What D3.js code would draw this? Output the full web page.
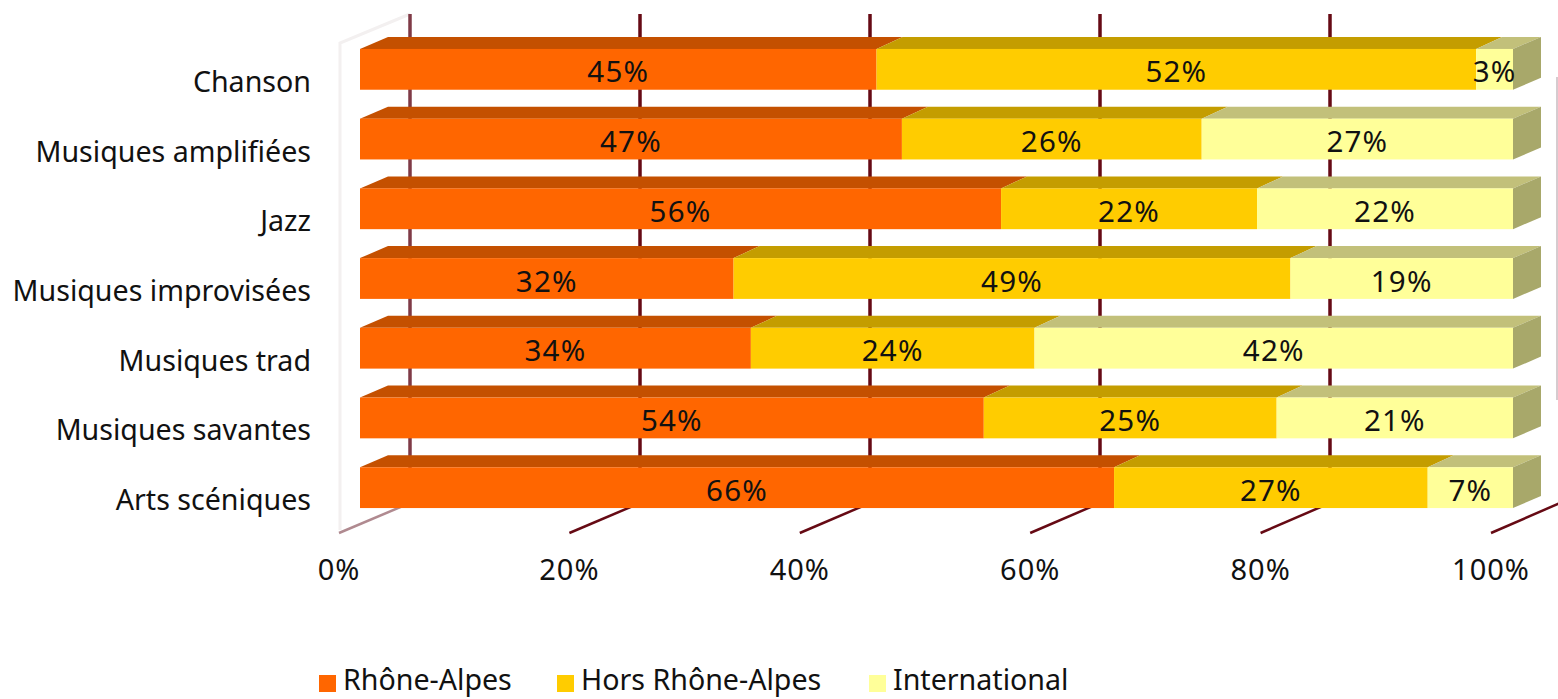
<!DOCTYPE html>
<html><head><meta charset="utf-8">
<script src="https://cdn.jsdelivr.net/npm/d3@7"></script>
<style>html,body{margin:0;padding:0;background:#fff;overflow:hidden}text{font-family:"Noto Sans",sans-serif;fill:#111}</style>
</head><body><svg id="c" width="1558" height="699"></svg>
<script>
const categories=["Chanson","Musiques amplifiées","Jazz","Musiques improvisées","Musiques trad","Musiques savantes","Arts scéniques"];
const seriesNames=["Rhône-Alpes","Hors Rhône-Alpes","International"];
const rhoneAlpes=[44.8,47,55.6,32.4,33.9,54.1,65.4];
const horsRhoneAlpes=[52,26,22.2,48.3,24.6,25.4,27.2];
const international=[3.2,27,22.2,19.3,41.5,20.5,7.4];
const pctLabels=[["45%","52%","3%"],["47%","26%","27%"],["56%","22%","22%"],["32%","49%","19%"],["34%","24%","42%"],["54%","25%","21%"],["66%","27%","7%"]];
const ticks=[0,20,40,60,80,100];
const frontColors=["#FF6600","#FFCC00","#FFFF99"];
const topColors=["#C45000","#C49D00","#C2C07A"];
const sideColor="#A8A86A";

const svg=d3.select("#c");
const x=d3.scaleLinear().domain([0,100]).range([360,1513]);
const y=d3.scaleBand().domain(categories).range([35,522]).paddingInner(0.415).paddingOuter(0.2);
const dx=28,dy=-12,innerDx=26;
const gridX=d3.scaleLinear().domain([0,100]).range([410,1560]);
const floorX=d3.scaleLinear().domain([0,100]).range([339,1491]);
const gridTop=14,floorBack=503,floorFront=533;

svg.append("path").attr("d",`M340,530V43L410,${gridTop}`).attr("fill","none").attr("stroke","#f3f0f0").attr("stroke-width",3);
svg.append("line").attr("x1",1557).attr("x2",1557).attr("y1",77).attr("y2",400).attr("stroke","#d6cbcf").attr("stroke-width",2);
svg.selectAll(".grid").data(ticks.slice(0,-1)).join("line").attr("class","grid")
 .attr("x1",gridX).attr("x2",gridX).attr("y1",gridTop).attr("y2",floorBack)
 .attr("stroke",d=>d===0?"#7f3a46":"#660a14").attr("stroke-width",3.5);
svg.selectAll(".floor").data(ticks).join("line").attr("class","floor")
 .attr("x1",floorX).attr("y1",floorFront).attr("x2",d=>gridX(d)).attr("y2",floorBack)
 .attr("stroke",d=>d===0?"#b08a90":"#660a14").attr("stroke-width",2.5);

const rows=categories.map((c,i)=>{let s=0;return [rhoneAlpes[i],horsRhoneAlpes[i],international[i]].map((v,k)=>{const o={c,i,k,x0:s,x1:s+v,label:pctLabels[i][k]};s+=v;return o;});});
const g=svg.selectAll(".row").data(rows).join("g").attr("class","row");
g.each(function(r){
  const G=d3.select(this);
  const top=y(r[0].c),h=y.bandwidth();
  r.forEach(d=>{
    const a=x(d.x0),e=x(d.x1);
    const da=d.k===0?dx:innerDx,de=d.k===2?dx:innerDx;
    G.append("polygon").attr("fill",topColors[d.k]).attr("points",[[a,top],[a+da,top+dy],[e+de,top+dy],[e,top]].join(" "));
  });
  const e=x(r[2].x1);
  G.append("polygon").attr("fill",sideColor).attr("points",[[e,top],[e+dx,top+dy],[e+dx,top+h+dy],[e,top+h]].join(" "));
  r.forEach(d=>{
    G.append("rect").attr("x",x(d.x0)).attr("y",top).attr("width",x(d.x1)-x(d.x0)).attr("height",h).attr("fill",frontColors[d.k]);
  });
  r.forEach(d=>{
    G.append("text").attr("x",(x(d.x0)+x(d.x1))/2).attr("y",top+h/2+13).attr("text-anchor","middle")
     .attr("font-size",29.5).attr("letter-spacing",1.2).text(d.label);
  });
});

svg.selectAll(".cat").data(categories).join("text").attr("class","cat")
 .attr("x",311).attr("y",d=>y(d)+y.bandwidth()/2+22.5).attr("text-anchor","end").attr("font-size",28.6).text(d=>d);
svg.selectAll(".tick").data(ticks).join("text").attr("class","tick")
 .attr("x",floorX).attr("y",580).attr("text-anchor","middle").attr("font-size",29).attr("letter-spacing",1).text(d=>d+"%");
const legendX=d3.scaleOrdinal().domain(seriesNames).range([319,557,869]);
const lg=svg.selectAll(".lg").data(seriesNames).join("g").attr("class","lg");
lg.append("rect").attr("x",d=>legendX(d)).attr("y",675).attr("width",17).attr("height",17).attr("fill",(d,i)=>frontColors[i]);
lg.append("text").attr("x",d=>legendX(d)+24).attr("y",690).attr("font-size",28.6).text(d=>d);
</script></body></html>
